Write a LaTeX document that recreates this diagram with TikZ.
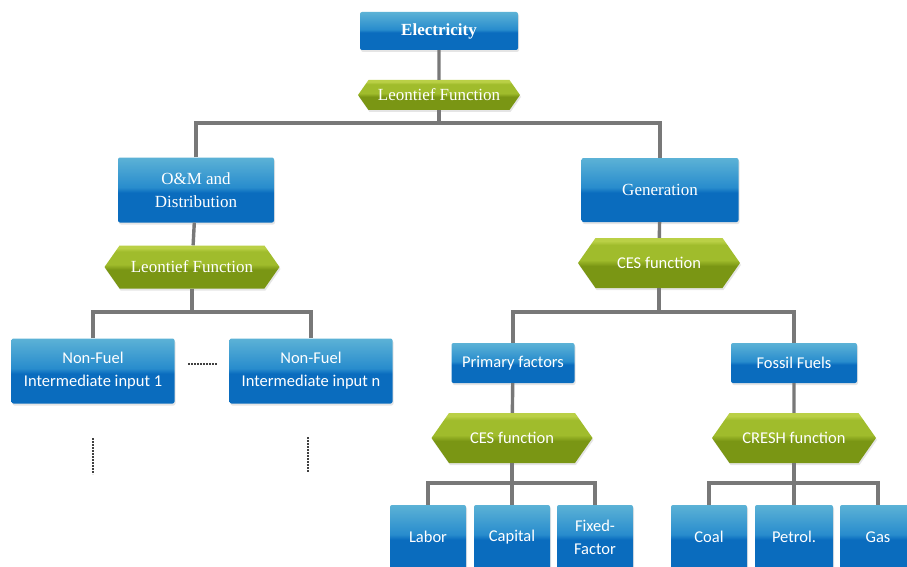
\documentclass[tikz,border=0pt]{standalone}
\usepackage{fontspec}
\setmainfont{Liberation Serif}
\newfontfamily\calfont{Carlito}
\usetikzlibrary{shapes.symbols,shadows,positioning}
\definecolor{boxtop}{RGB}{92,178,214}
\definecolor{boxmid}{RGB}{40,140,205}
\definecolor{boxbot}{RGB}{10,108,190}
\definecolor{fntop}{RGB}{186,208,70}
\definecolor{fnmid}{RGB}{160,188,44}
\definecolor{fnbot}{RGB}{122,150,20}
\definecolor{linegray}{RGB}{120,120,120}
\pgfdeclareverticalshading{bluegloss}{100bp}{color(0bp)=(boxbot); color(25bp)=(boxbot);
  color(48bp)=(boxbot); color(52bp)=(boxmid); color(75bp)=(boxtop); color(100bp)=(boxtop)}
\pgfdeclareverticalshading{greengloss}{100bp}{color(0bp)=(fnbot); color(25bp)=(fnbot);
  color(47bp)=(fnbot); color(53bp)=(fnmid); color(68bp)=(fnmid); color(72bp)=(fntop); color(100bp)=(fntop)}
\tikzset{
    % blue boxes
    bluebox/.style={
        rectangle, rounded corners=2pt,
        shading=bluegloss, text=white, align=center, inner sep=0pt,
        drop shadow={opacity=0.2, shadow xshift=1pt, shadow yshift=-2pt}
    },
    % green function labels
    fnbox/.style={
        signal, signal to=west and east, signal pointer angle=110,
        shading=greengloss, text=white, inner sep=0pt,
        drop shadow={opacity=0.2, shadow xshift=1pt, shadow yshift=-2pt}
    },
    serifbig/.style={font=\fontsize{17}{23}\selectfont},
    sansbig/.style={font=\calfont\fontsize{16.5}{23}\selectfont},
    connline/.style={line width=3.4pt, linegray},
    dotline/.style={line width=1.8pt, black!75, dash pattern=on 1.6pt off 1.4pt}
}
\begin{document}
\begin{tikzpicture}[x=1pt,y=-1pt]
    \clip (0,0) rectangle (907,567);
    \fill[white] (0,0) rectangle (907,567);
    % top level
    \node[bluebox,serifbig,minimum width=158pt,minimum height=38pt] (elec) at (439,31) {\textbf{Electricity}};
    \node[fnbox,serifbig,minimum width=162pt,minimum height=30pt] (lf0) at (439,95) {Leontief Function};
    \node[bluebox,serifbig,minimum width=156pt,minimum height=65pt] (om) at (196,190) {O\&M and\\Distribution};
    \node[bluebox,serifbig,minimum width=157pt,minimum height=64pt] (gen) at (660,190) {Generation};
    \node[fnbox,serifbig,minimum width=175pt,minimum height=43pt] (lf1) at (192,267) {Leontief Function};
    \node[fnbox,sansbig,minimum width=162pt,minimum height=50pt] (ces0) at (659,263) {CES function};
    % non-fuel inputs
    \node[bluebox,sansbig,minimum width=163pt,minimum height=65pt] (nf1) at (93,371) {Non-Fuel\\Intermediate input 1};
    \node[bluebox,sansbig,minimum width=163pt,minimum height=65pt] (nfn) at (311,371) {Non-Fuel\\Intermediate input n};
    % generation side
    \node[bluebox,sansbig,minimum width=123pt,minimum height=40pt] (pf) at (513,363) {Primary factors};
    \node[bluebox,sansbig,minimum width=126pt,minimum height=40pt] (ff) at (794,363) {Fossil Fuels};
    \node[fnbox,sansbig,minimum width=161pt,minimum height=50pt] (ces1) at (512,438) {CES function};
    \node[fnbox,sansbig,minimum width=164pt,minimum height=50pt] (cresh) at (794,438) {CRESH function};
    \node[bluebox,sansbig,minimum width=76pt,minimum height=64pt] (labor) at (428,537) {Labor};
    \node[bluebox,sansbig,minimum width=76pt,minimum height=64pt] (capital) at (512,537) {Capital};
    \node[bluebox,sansbig,minimum width=76pt,minimum height=64pt] (fixed) at (595,537) {Fixed-\\Factor};
    \node[bluebox,sansbig,minimum width=76pt,minimum height=64pt] (coal) at (709,537) {Coal};
    \node[bluebox,sansbig,minimum width=78pt,minimum height=64pt] (petrol) at (794,537) {Petrol.};
    \node[bluebox,sansbig,minimum width=76pt,minimum height=64pt] (gas) at (878,537) {Gas};

    \path (439,123) coordinate (jt) (192,312) coordinate (jl) (659,312) coordinate (jr)
    (512,483) coordinate (jp) (794,483) coordinate (jf)
    (188,364) coordinate (d1) (217,364) coordinate (d2)
    (93,438) coordinate (d3) (93,474) coordinate (d4)
    (308,437) coordinate (d5) (308,472) coordinate (d6);

    \draw[connline] (elec) -- (lf0);
    \draw[connline] (lf0) -- (jt);
    \draw[connline] (om.north) |- (jt) -| (gen.north);
    \draw[connline] (om) -- (lf1);
    \draw[connline] (gen) -- (ces0);
    \draw[connline] (lf1) -- (jl);
    \draw[connline] (nf1.north) |- (jl) -| (nfn.north);
    \draw[connline] (ces0) -- (jr);
    \draw[connline] (pf.north) |- (jr) -| (ff.north);
    \draw[connline] (pf) -- (ces1);
    \draw[connline] (ff) -- (cresh);
    \draw[connline] (ces1) -- (jp) -- (capital.north);
    \draw[connline] (labor.north) |- (jp) -| (fixed.north);
    \draw[connline] (cresh) -- (jf) -- (petrol.north);
    \draw[connline] (coal.north) |- (jf) -| (gas.north);

    \draw[dotline] (d1) -- (d2);
    \draw[dotline] (d3) -- (d4);
    \draw[dotline] (d5) -- (d6);
\end{tikzpicture}
\end{document}
